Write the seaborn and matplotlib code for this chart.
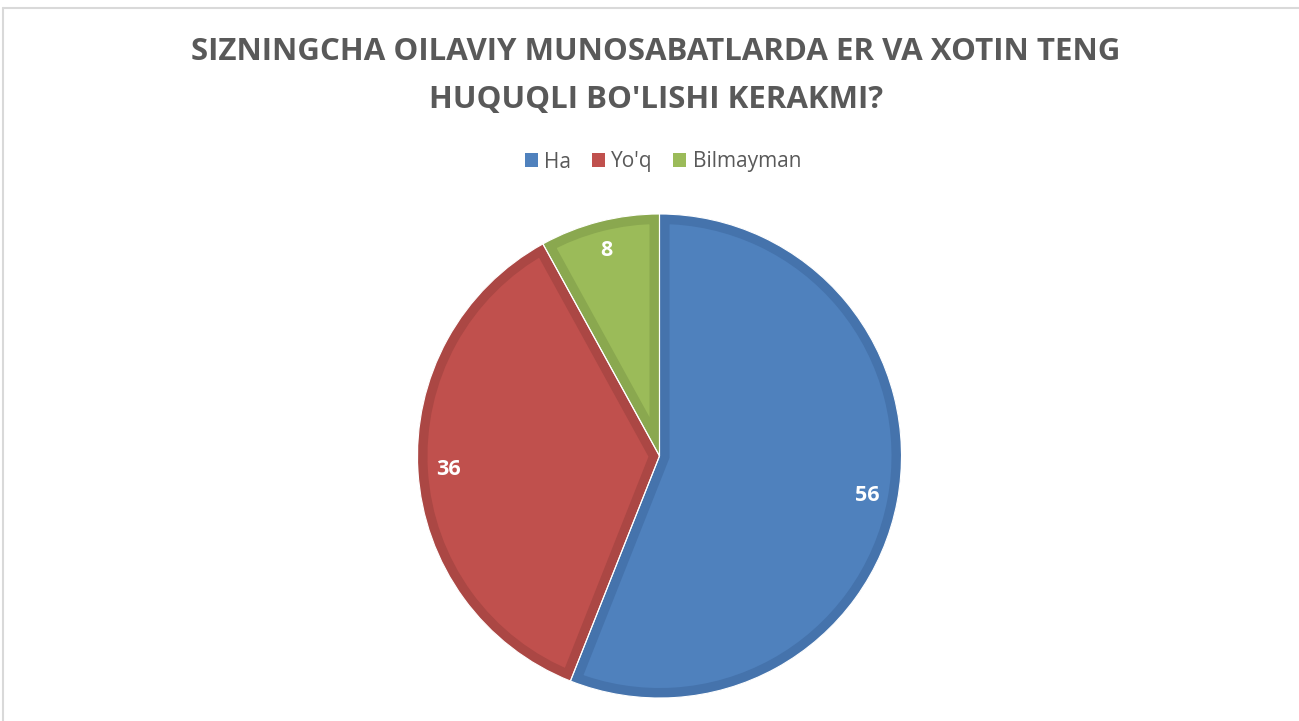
import numpy as np
import matplotlib
matplotlib.use("Agg")
import matplotlib.pyplot as plt
from matplotlib.patches import Patch, Wedge
from matplotlib.lines import Line2D
import seaborn as sns

# ---- data ----
title_lines = ["SIZNINGCHA OILAVIY MUNOSABATLARDA ER VA XOTIN TENG",
               "HUQUQLI BO'LISHI KERAKMI?"]
categories = ["Ha", "Yo'q", "Bilmayman"]
values = [56, 36, 8]
fill_colors = ["#4F81BD", "#C0504D", "#9BBB59"]
edge_colors = ["#4573AC", "#AB4744", "#8AA84F"]

sns.set_theme(style="white")
plt.rcParams['font.family'] = ['Open Sans', 'DejaVu Sans']

fig = plt.figure(figsize=(12.99, 7.21), dpi=100)
fig.patch.set_facecolor("white")

# pie axes placed so the pie sits where it is in the reference
W, H = 1299, 721
cx, cy, r = 659.5, 456, 242
ax = fig.add_axes([(cx - r) / W, (H - cy - r) / H, 2 * r / W, 2 * r / H])

pal = sns.color_palette(fill_colors)
wedges, texts, autotexts = ax.pie(
    values, colors=pal, startangle=90, counterclock=False,
    autopct=lambda p: "{:.0f}".format(p * sum(values) / 100),
    pctdistance=0.875, radius=1,
    textprops=dict(color="white", fontsize=15.5, fontweight="bold"))

ax.set_xlim(-1, 1)
ax.set_ylim(-1, 1)
ax.set_aspect("equal")
ax.axis("off")

# darker inner stroke, clipped to each wedge's own shape
for w, ec in zip(wedges, edge_colors):
    clip = Wedge(w.center, w.r, w.theta1, w.theta2, transform=ax.transData)
    w.set_edgecolor(ec)
    w.set_linewidth(14.4)
    w.set_clip_on(True)
    w.set_clip_path(clip)

# thin white separators
ax.pie(values, colors=["none"] * 3, startangle=90, counterclock=False,
       radius=1, wedgeprops=dict(edgecolor="white", linewidth=0.8, fill=False))
ax.set_xlim(-1, 1)
ax.set_ylim(-1, 1)

# title
fig.text(656 / W, 1 - 52 / H, title_lines[0], ha="center", va="center",
         fontsize=22.5, fontweight="bold", color="#595959")
fig.text(656 / W, 1 - 100 / H, title_lines[1], ha="center", va="center",
         fontsize=22.5, fontweight="bold", color="#595959")

# legend
handles = [Patch(facecolor=c, edgecolor="none") for c in fill_colors]
fig.legend(handles, categories, loc="center", bbox_to_anchor=(663 / W, 1 - 162 / H),
           ncol=3, frameon=False, fontsize=15, labelcolor="#595959",
           handlelength=0.62, handleheight=0.62, handletextpad=0.3,
           columnspacing=1.0, borderaxespad=0)

# chart-area border (partially visible)
fig.add_artist(Line2D([3 / W, 3 / W], [1 - 8 / H, -0.05], color="#D9D9D9",
                      linewidth=1.5, transform=fig.transFigure))
fig.add_artist(Line2D([3 / W, 1.05], [1 - 8 / H, 1 - 8 / H], color="#D9D9D9",
                      linewidth=1.5, transform=fig.transFigure))

fig.savefig("out.png", dpi=100)
